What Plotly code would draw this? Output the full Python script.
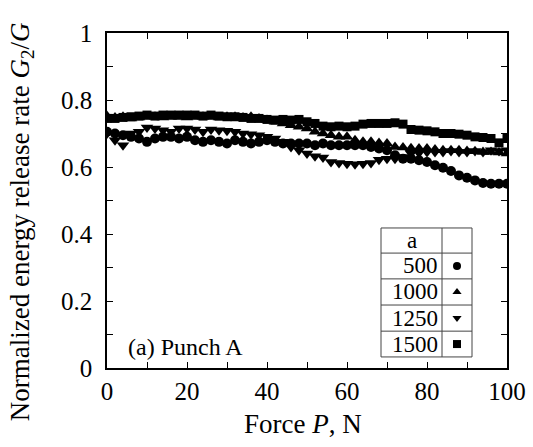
import plotly.graph_objects as go

force = [0, 2, 4, 6, 8, 10, 12, 14, 16, 18, 20, 22, 24, 26, 28, 30, 32, 34, 36, 38, 40,
         42, 44, 46, 48, 50, 52, 54, 56, 58, 60, 62, 64, 66, 68, 70, 72, 74, 76, 78, 80,
         82, 84, 86, 88, 90, 92, 94, 96, 98, 100]

g_500 = [.705, .700, .695, .690, .685, .675, .685, .690, .690, .685, .690, .680, .675, .680, .675,
         .670, .680, .675, .670, .675, .680, .675, .670, .670, .670, .670, .665, .670, .665, .665,
         .665, .665, .665, .660, .655, .650, .635, .625, .625, .620, .615, .605, .598, .588, .575,
         .568, .560, .552, .550, .550, .550]

g_1000 = [.752, .748, .750, .745, .748, .750, .750, .748, .750, .750, .748, .750, .750, .750, .748,
          .750, .750, .748, .750, .745, .740, .735, .730, .725, .720, .715, .705, .700, .695, .690,
          .690, .680, .675, .675, .672, .670, .660, .658, .656, .655, .655, .652, .650, .650, .650,
          .648, .647, .645, .645, .643, .640]

g_1250 = [.700, .680, .665, .700, .705, .718, .715, .710, .705, .715, .715, .712, .705, .712, .710,
          .708, .705, .700, .698, .695, .690, .685, .675, .660, .650, .640, .632, .628, .615, .612,
          .610, .608, .610, .612, .622, .625, .625, .630, .640, .642, .645, .645, .645, .648, .645,
          .645, .648, .645, .650, .648, .650]

g_1500 = [.745, .745, .748, .750, .752, .755, .752, .755, .755, .755, .755, .755, .752, .755, .752,
          .750, .750, .748, .745, .745, .742, .740, .742, .740, .742, .735, .730, .722, .720, .722,
          .720, .722, .728, .730, .730, .730, .732, .728, .712, .710, .708, .705, .700, .700, .698,
          .695, .690, .688, .685, .672, .685]

crack_lengths = ["500", "1000", "1250", "1500"]
symbols = ["circle", "triangle-up", "triangle-down", "square"]
sizes = [10, 11, 11, 9]
series = [g_500, g_1000, g_1250, g_1500]
draw_order = [3, 0, 2, 1]  # squares first, up-triangles on top

FONT = "Liberation Serif"
fig = go.Figure()

for i in draw_order:
    fig.add_trace(go.Scatter(x=force, y=series[i], mode="markers",
                             marker=dict(symbol=symbols[i], size=sizes[i], color="black",
                                         line=dict(width=0)),
                             showlegend=False, hoverinfo="skip"))

# legend table (drawn as shapes in data coords)
tx0, tx1, tx2 = 68.5, 83.75, 91.25
row_y = [0.418, 0.343, 0.266, 0.188, 0.110, 0.033]
line = dict(color="#444", width=1)
fig.add_shape(type="rect", x0=tx0, x1=tx2, y0=row_y[-1], y1=row_y[0], line=line,
              fillcolor="white", layer="below")
fig.add_shape(type="line", x0=tx1, x1=tx1, y0=row_y[-1], y1=row_y[0], line=line, layer="above")
for yy in row_y[1:-1]:
    fig.add_shape(type="line", x0=tx0, x1=tx2, y0=yy, y1=yy, line=line, layer="above")

fig.add_annotation(x=(tx0 + tx1) / 2, y=(row_y[0] + row_y[1]) / 2, text="a",
                   showarrow=False, font=dict(family=FONT, size=23, color="black"))
for i, (lab, sym) in enumerate(zip(crack_lengths, symbols)):
    yc = (row_y[i + 1] + row_y[i + 2]) / 2
    fig.add_annotation(x=tx1 - 0.5, y=yc, text=lab, showarrow=False, xanchor="right",
                       font=dict(family=FONT, size=23, color="black"))
    fig.add_trace(go.Scatter(x=[(tx1 + tx2) / 2], y=[yc], mode="markers",
                             marker=dict(symbol=sym, size=8, color="black"),
                             showlegend=False, hoverinfo="skip", cliponaxis=False))

fig.add_annotation(x=19.5, y=0.062, text="(a) Punch A", showarrow=False,
                   font=dict(family=FONT, size=24, color="black"))

# axis titles as annotations (paper coords) for exact placement
fig.add_annotation(xref="paper", yref="paper", x=-0.2125, y=0.435,
                   text="Normalized energy release rate <i>G</i><sub>2</sub>/<i>G</i>",
                   textangle=-90, showarrow=False, xanchor="center", yanchor="middle",
                   font=dict(family=FONT, size=27, color="black"))
fig.add_annotation(xref="paper", yref="paper", x=0.49, y=-0.167,
                   text="Force <i>P</i>, N", showarrow=False,
                   xanchor="center", yanchor="middle",
                   font=dict(family=FONT, size=27, color="black"))

xt = list(range(0, 101, 10))
yt = [round(i * 0.1, 1) for i in range(11)]
fig.update_xaxes(range=[0, 100], tickvals=xt, automargin=False,
                 ticktext=[str(v) if v % 20 == 0 else "" for v in xt],
                 ticks="inside", ticklen=6, tickwidth=1, tickcolor="black",
                 showline=True, linecolor="black", linewidth=1.5, mirror="ticks",
                 showgrid=False, zeroline=False,
                 tickfont=dict(family=FONT, size=25, color="black"))
fig.update_yaxes(range=[0, 1], tickvals=yt, automargin=False,
                 ticktext=[("0" if v == 0 else "1" if v == 1 else f"{v:.1f}") if round(v * 10) % 2 == 0 else "" for v in yt],
                 ticks="inside", ticklen=6, tickwidth=1, tickcolor="black",
                 showline=True, linecolor="black", linewidth=1.5, mirror="ticks",
                 showgrid=False, zeroline=False, ticklabelstandoff=8,
                 tickfont=dict(family=FONT, size=25, color="black"))

fig.update_layout(width=533, height=447, margin=dict(l=107, r=26, t=33, b=79),
                  plot_bgcolor="white", paper_bgcolor="white")

fig.write_html("out.html")
